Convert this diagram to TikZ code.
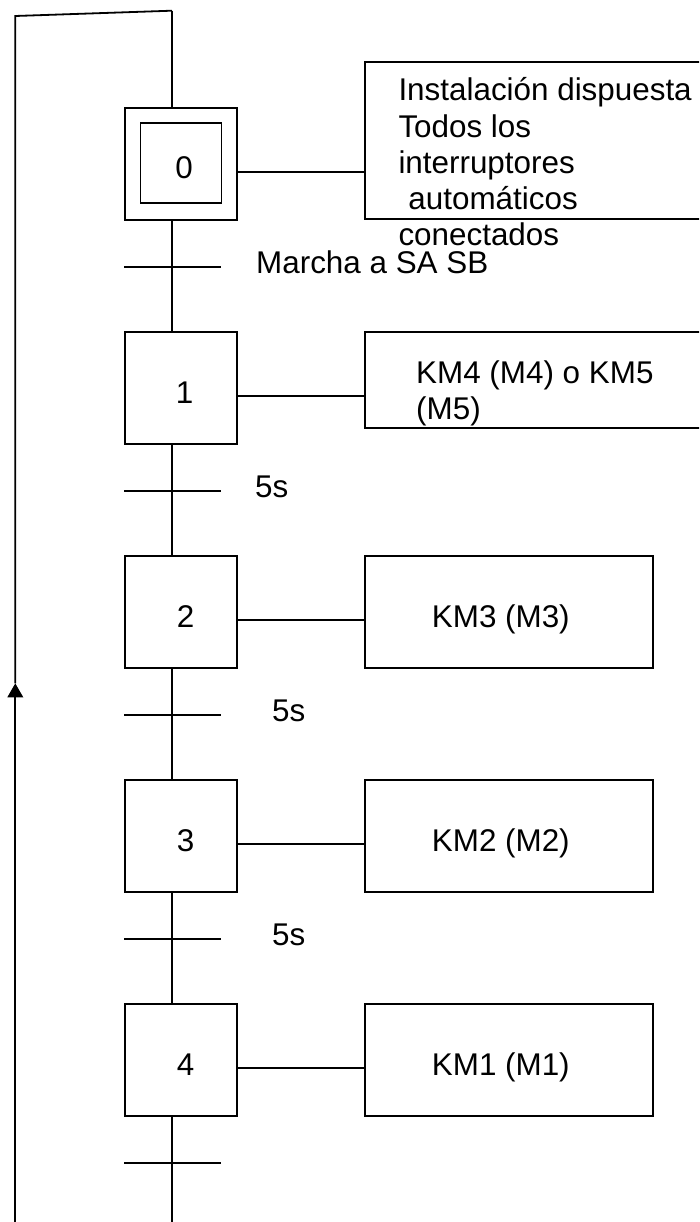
\documentclass[tikz,border=0pt]{standalone}
\usepackage{fontspec}
\setmainfont{Liberation Sans}
\usetikzlibrary{arrows.meta}
\tikzset{
  ln/.style={line width=1.8pt, line cap=butt},
  thinln/.style={line width=1.6pt},
  stepbox/.style={draw, line width=1.8pt, minimum width=112pt, minimum height=112pt, inner sep=0pt, anchor=north west},
  actbox/.style={draw, line width=1.8pt, minimum width=288.3pt, minimum height=112pt, inner sep=0pt, anchor=north west},
  txt/.style={font=\fontsize{31.4}{36.7}\selectfont, inner sep=0pt, anchor=base west},
  num/.style={font=\fontsize{31.4}{36.7}\selectfont, inner sep=0pt, anchor=base},
}
\begin{document}
\begin{tikzpicture}[x=1pt,y=-1pt]
\useasboundingbox (0,0) rectangle (699,1222);
\clip (0,0) rectangle (699,1222);
\fill[white] (0,0) rectangle (699,1222);
% steps
\node[stepbox] (s0) at (124,107) {};
\node[draw, line width=1.8pt, minimum width=81pt, minimum height=80pt, inner sep=0pt, anchor=north west] (s0i) at (139.5,122.3) {};
\node[stepbox] (s1) at (124,331) {};
\node[stepbox] (s2) at (124,555) {};
\node[stepbox] (s3) at (124,779) {};
\node[stepbox] (s4) at (124,1003) {};
\node[num] (n0) at (184,179) {0};
\node[num] (n1) at (184.5,403) {1};
\node[num] (n2) at (185.5,627) {2};
\node[num] (n3) at (185.5,851) {3};
\node[num] (n4) at (185.5,1075) {4};
% action boxes
\node[draw, line width=1.8pt, minimum width=360pt, minimum height=157pt, inner sep=0pt, anchor=north west] (a0) at (363.7,61.5) {};
\node[draw, line width=1.8pt, minimum width=360pt, minimum height=96pt, inner sep=0pt, anchor=north west] (a1) at (363.7,331) {};
\node[actbox] (a2) at (363.7,555) {};
\node[actbox] (a3) at (363.7,779) {};
\node[actbox] (a4) at (363.7,1003) {};
% action texts
\node[txt] (t0a) at (398.3,100.7) {Instalación dispuesta};
\node[txt] (t0b) at (398.3,137.3) {Todos los};
\node[txt] (t0c) at (398.3,173.5) {interruptores};
\node[txt] (t0d) at (399.5,209.5) {\ automáticos};
\node[txt] (t0e) at (398.3,246) {conectados};
\node[txt] (t1a) at (416,383) {KM4 (M4) o KM5};
\node[txt] (t1b) at (416,419.7) {(M5)};
\node[txt] (t2) at (431.7,627) {KM3 (M3)};
\node[txt] (t3) at (431.7,851) {KM2 (M2)};
\node[txt] (t4) at (431.7,1075) {KM1 (M1)};
% step -> action links
\foreach \i in {0,...,4}{
  \draw[thinln] ([yshift=-8pt]s\i.east) -- ([yshift=-8pt]s\i.east -| a\i.west);
}
% main vertical (x = 172, left of the box centres)
\coordinate (top) at (172,10.7);
\coordinate (bot) at (172,1222);
\coordinate (lt) at (15.3,16);
\coordinate (lb) at (15.3,1222);
\coordinate (tip) at (15.3,683.3);
\draw[ln] (top) -- (top |- s0.north);
\draw[ln] (top |- s0.south) -- (top |- s1.north);
\draw[ln] (top |- s1.south) -- (top |- s2.north);
\draw[ln] (top |- s2.south) -- (top |- s3.north);
\draw[ln] (top |- s3.south) -- (top |- s4.north);
\draw[ln] (top |- s4.south) -- (bot);
% transitions
\foreach \y/\n in {266.7/0,490.7/1,714.7/2,939/3,1163/4}{
  \coordinate (tl\n) at (124,\y);
  \coordinate (tr\n) at (220.5,\y);
  \draw[ln] (tl\n) -- (tr\n);
}
\node[txt] (c0) at (256,273.3) {Marcha a SA SB};
\node[txt] (c1) at (255,497) {5s};
\node[txt] (c2) at (272,721) {5s};
\node[txt] (c3) at (272,945) {5s};
% return loop
\draw[ln, -{Triangle[length=14pt,width=15.5pt]}] (lb) -- (tip);
\draw[ln] (tip) -- (lt) -- (top);
\end{tikzpicture}
\end{document}
